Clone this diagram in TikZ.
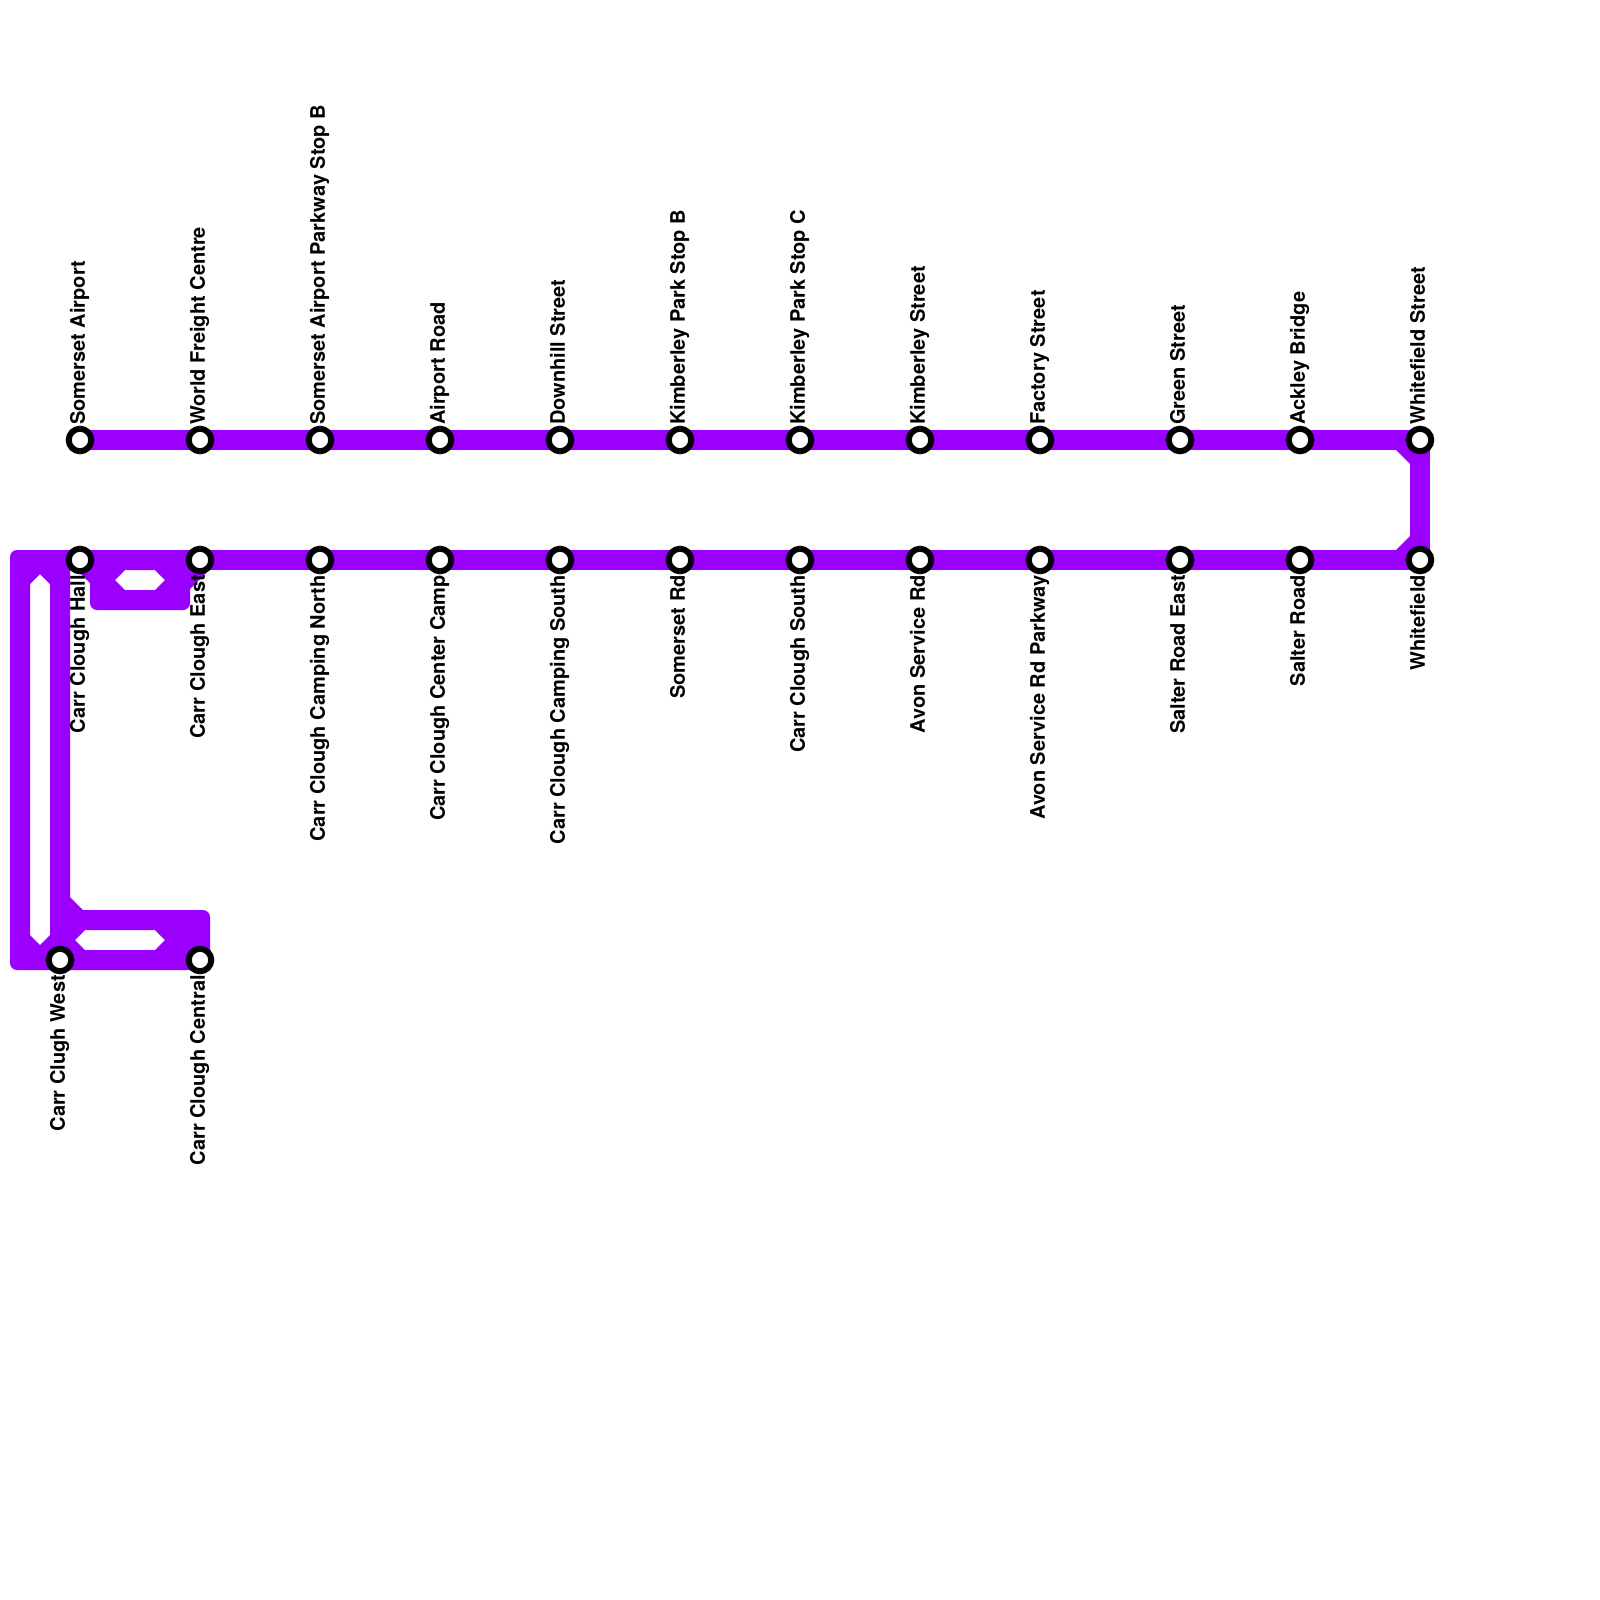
\documentclass[tikz,border=0pt]{standalone}
\usepackage{fontspec}
\setmainfont{TeX Gyre Heros}
\usetikzlibrary{backgrounds}
\definecolor{linepurple}{HTML}{9B00FF}
\tikzset{
  stn/.style={circle,draw=black,fill=white,line width=6pt,minimum size=22.5pt,inner sep=0pt},
  railway/.style={draw=linepurple,line width=20pt,line cap=butt,line join=miter},
  blockfill/.style={fill=linepurple,even odd rule},
  uplabel/.style={rotate=90,anchor=west,inner sep=0pt,text height=14.4pt,text depth=4.2pt,font=\fontsize{20}{20}\selectfont\bfseries,text=black},
  downlabel/.style={rotate=90,anchor=east,inner sep=0pt,text height=14.4pt,text depth=4.2pt,font=\fontsize{20}{20}\selectfont\bfseries,text=black}
}
\begin{document}
\begin{tikzpicture}[x=1pt,y=-1pt]
\useasboundingbox (0,0) rectangle (1600,1600);
% upper row of stations
\foreach \n/\x/\t in {a1/80/Somerset Airport,a2/200/World Freight Centre,a3/320/Somerset Airport Parkway Stop B,a4/440/Airport Road,a5/560/Downhill Street,a6/680/Kimberley Park Stop B,a7/800/Kimberley Park Stop C,a8/920/Kimberley Street,a9/1040/Factory Street,a10/1180/Green Street,a11/1300/Ackley Bridge,a12/1420/Whitefield Street}{
  \node[uplabel] (\n t) at (\x-0.3,425) {\t};
  \node[stn] (\n) at (\x,440) {};
}
% lower row of stations
\foreach \n/\x/\t in {b1/80/Carr Clough Hall,b2/200/Carr Clough East,b3/320/Carr Clough Camping North,b4/440/Carr Clough Center Camp,b5/560/Carr Clough Camping South,b6/680/Somerset Rd,b7/800/Carr Clough South,b8/920/Avon Service Rd,b9/1040/Avon Service Rd Parkway,b10/1180/Salter Road East,b11/1300/Salter Road,b12/1420/Whitefield}{
  \node[downlabel] (\n t) at (\x-0.3,575) {\t};
  \node[stn] (\n) at (\x,560) {};
}
\node[downlabel] (c1t) at (59.7,975) {Carr Clugh West};
\node[stn] (c1) at (60,960) {};
\node[downlabel] (c2t) at (199.7,975) {Carr Clough Central};
\node[stn] (c2) at (200,960) {};
\begin{scope}[on background layer]
  \draw[railway] (a1.center) -- (a12.center) -- (b12.center) -- (b1.center);
  % chamfers at the right-hand bend
  \fill[linepurple] (1396,450) -- (1410,450) -- (1410,464) -- cycle;
  \fill[linepurple] (1396,550) -- (1410,550) -- (1410,536) -- cycle;
  % junction block at the left, with its openings
  \path[blockfill]
    [rounded corners=7pt] (210,550) -- (10,550) -- (10,970) -- (210,970) -- (210,910) [sharp corners]
    -- (83,910) -- (70,897) -- (70,570) -- (77,570) -- (90,583)
    [rounded corners=7pt] -- (90,610) -- (190,610) [sharp corners] -- (190,589) -- (209,570) -- (210,570) -- cycle
    (30,584) -- (40,574) -- (50,584) -- (50,935) -- (40,945) -- (30,935) -- cycle
    (75,940) -- (85,930) -- (155,930) -- (165,940) -- (155,950) -- (85,950) -- cycle
    (115,580) -- (125,570) -- (155,570) -- (165,580) -- (155,590) -- (125,590) -- cycle;
\end{scope}
\end{tikzpicture}
\end{document}
